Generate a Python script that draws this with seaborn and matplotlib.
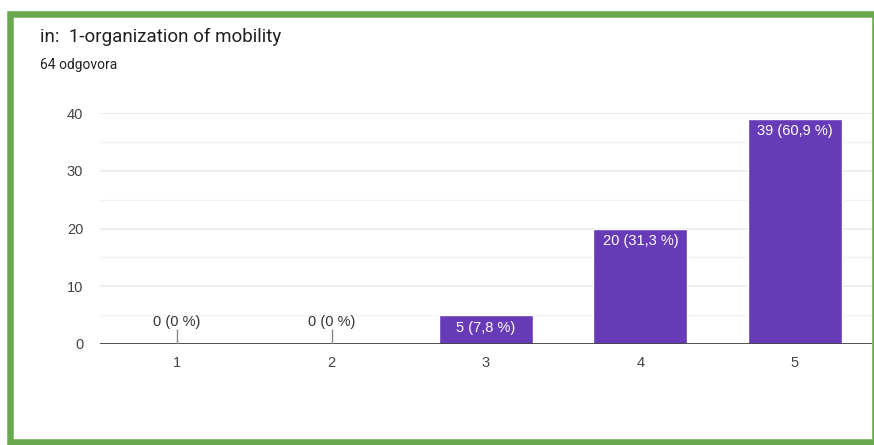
import matplotlib
matplotlib.use('Agg')
import matplotlib.pyplot as plt
import seaborn as sns
import pandas as pd
from matplotlib.patches import Rectangle

# 데이터
categories = ['1', '2', '3', '4', '5']
counts = [0, 0, 5, 20, 39]
percents = [0, 0, 7.8, 31.3, 60.9]
title = 'in:  1-organization of mobility'
subtitle = '64 odgovora'

sns.set_style('white')
plt.rcParams['font.family'] = ['Liberation Sans', 'DejaVu Sans']

df = pd.DataFrame({'cat': categories, 'count': counts})

fig = plt.figure(figsize=(8.74, 4.45), dpi=100)
ax = fig.add_axes([0.1144, 0.227, 0.8833, 0.519])

sns.barplot(data=df, x='cat', y='count', color='#673ab7', saturation=1,
            width=0.61, ax=ax, zorder=3)

ax.set_ylim(0, 40)
ax.set_xlim(-0.5, 4.5)
ax.set_yticks([0, 10, 20, 30, 40])
ax.set_yticks([5, 15, 25, 35], minor=True)
ax.grid(axis='y', which='major', color='#ebebeb', lw=1.2, zorder=0)
ax.grid(axis='y', which='minor', color='#f4f4f4', lw=1.0, zorder=0)
ax.set_axisbelow(True)
for s in ax.spines.values():
    s.set_visible(False)
ax.axhline(0, color='#444444', lw=1.3, zorder=4)
ax.tick_params(axis='both', length=0, labelsize=10.5, labelcolor='#444444')
ax.tick_params(axis='y', pad=12)
ax.tick_params(axis='x', pad=9)
ax.set_xlabel('')
ax.set_ylabel('')

# 막대 라벨
for i, (c, p) in enumerate(zip(counts, percents)):
    ptxt = '0 %' if p == 0 else f'{p:.1f}'.replace('.', ',') + ' %'
    label = f'{c} ({ptxt})'
    if c == 0:
        ax.vlines(i, 0, 2.6, color='#888888', lw=1.0, zorder=4)
        ax.annotate(label, (i, 0), xytext=(0, 11), textcoords='offset points',
                    ha='center', va='bottom', fontsize=10.5, color='#333333')
    else:
        ax.annotate(label, (i, c), xytext=(0, -4), textcoords='offset points',
                    ha='center', va='top', fontsize=10.5, color='white', zorder=5)

fig.text(40 / 874, 1 - 37 / 445, title, fontsize=13.5, color='#212121',
         va='center', family=['Roboto', 'DejaVu Sans'])
fig.text(40 / 874, 1 - 65 / 445, subtitle, fontsize=10, color='#212121',
         va='center', family=['Roboto', 'DejaVu Sans'])

# 녹색 테두리
fig.patches.append(Rectangle((9.7 / 874, 3 / 445), 865 / 874, 428.5 / 445,
                             transform=fig.transFigure, fill=False,
                             edgecolor='#6aa84f', lw=4.7, zorder=10))

plt.savefig('out.png', dpi=100)
